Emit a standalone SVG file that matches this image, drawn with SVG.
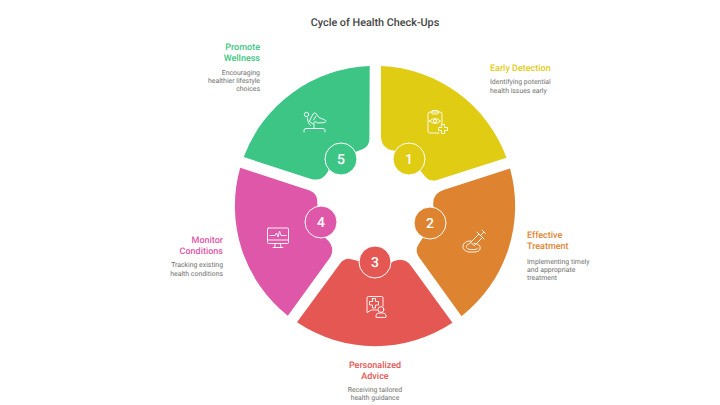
<svg xmlns="http://www.w3.org/2000/svg" width="720" height="405" viewBox="0 0 720 405">
<style>
text{font-family:Roboto,"Liberation Sans",sans-serif;text-rendering:geometricPrecision}
.t{font-size:10.8px;font-weight:500;fill:#444;text-anchor:middle}
.h{font-size:9px;font-weight:500}
.d{font-size:6.9px;fill:#707070}
.n{font-size:14px;font-weight:500;fill:#fff;text-anchor:middle}
.c{stroke:#fff;stroke-width:1}
.i{fill:none;stroke:#fff;stroke-width:.9;stroke-linecap:round;stroke-linejoin:round}
.y{fill:#dfcc13}.o{fill:#de8431}.r{fill:#e55753}.p{fill:#de57a9}.g{fill:#3dc585}
.e{text-anchor:end}.m{text-anchor:middle}
</style>
<defs>
<path id="s" d="M381 66A140 140 0 0 1 506.500 157.700L437 180Q430 182 425.500 177L405 152L393 150.500Q381 148 381 136Z"/>
</defs>
<rect width="720" height="405" fill="#fff"/>
<text class="t" x="375" y="26">Cycle of Health Check-Ups</text>
<g id="node-1">
<use href="#s" class="y"/>
<circle class="c y" cx="409" cy="159" r="16"/>
<text class="n" x="409" y="164">1</text>
<g class="i"><path d="M442 124v-10a2 2 0 0 0-2-2h-10a2 2 0 0 0-2 2v17a2 2 0 0 0 2 2h9"/><rect x="431.500" y="110.500" width="7" height="3.500" rx="1.500"/><path d="M429.500 121q5.500-5 11 0q-5.500 5-11 0z"/><circle cx="435" cy="121" r="1.600"/><path d="M441.500 124.500h3v3h3v3h-3v3h-3v-3h-3v-3h3z"/></g>
<text class="h y" x="490" y="71">Early Detection</text>
<text class="d" x="490" y="84">Identifying potential</text>
<text class="d" x="490" y="93">health issues early</text>
</g>
<g id="node-2">
<use href="#s" class="o" transform="rotate(72 375 206)"/>
<circle class="c o" cx="430" cy="223" r="16"/>
<text class="n" x="430" y="228">2</text>
<g class="i"><path d="M471 242l8-8 3.500 3.500-8 8zM477 232l7 7M480.500 235.500l3-3M482 230l3.500 3.500M471 242l-1.500 1.500"/><path d="M471 241c-4-.5-8 2-8 5.500s3.500 5.500 7 5.500 9 .5 10-3-2-5.500-6-5.500"/><path d="M469 244c-2 .5-3 2-2.500 3.500s3 2 5 2 5 .5 6-1"/></g>
<text class="h o" x="527" y="238">Effective</text>
<text class="h o" x="527" y="248.500">Treatment</text>
<text class="d" x="527" y="264">Implementing timely</text>
<text class="d" x="527" y="272">and appropriate</text>
<text class="d" x="527" y="280">treatment</text>
</g>
<g id="node-3">
<use href="#s" class="r" transform="rotate(144 375 206)"/>
<circle class="c r" cx="375" cy="262" r="16"/>
<text class="n" x="375" y="267">3</text>
<g class="i"><path d="M383 306v-8a1.500 1.500 0 0 0-1.500-1.500h-13a1.500 1.500 0 0 0-1.500 1.500v14.500l4.500-2.500h6"/><path d="M372.500 298.500h3v3h3v3.500h-3v3h-3v-3h-3v-3.500h3z"/><circle cx="381" cy="309.500" r="2.900"/><path d="M376 317v-1.500a3 3 0 0 1 3-2.500h4a3 3 0 0 1 3 2.500v1.500z"/></g>
<text class="h r m" x="375" y="368">Personalized</text>
<text class="h r m" x="375" y="379">Advice</text>
<text class="d m" x="375" y="392">Receiving tailored</text>
<text class="d m" x="375" y="400">health guidance</text>
</g>
<g id="node-4">
<use href="#s" class="p" transform="rotate(216 375 206)"/>
<circle class="c p" cx="321" cy="222" r="16"/>
<text class="n" x="321" y="227">4</text>
<g class="i"><rect x="267.500" y="228" width="21" height="15.500" rx="1"/><path d="M267.500 240h21M275 247.500h6l-.7-4h-4.600zM273 247.500h10"/><path d="M270 235.500h5l1.500-2.500 1.500 4 1.500-6 1.500 4.500h5"/></g>
<text class="h p e" x="223" y="243">Monitor</text>
<text class="h p e" x="223" y="254">Conditions</text>
<text class="d e" x="223" y="267">Tracking existing</text>
<text class="d e" x="223" y="276">health conditions</text>
</g>
<g id="node-5">
<use href="#s" class="g" transform="rotate(288 375 206)"/>
<circle class="c g" cx="341" cy="159" r="16"/>
<text class="n" x="341" y="164">5</text>
<g class="i"><circle cx="306.500" cy="114.500" r="2.200"/><path d="M309.500 121l3.500-7q1.500-2 3-.5l3 4 6 2.500q2 1.500 0 2.500l-7 .5-3-1.500-2 2z"/><path d="M316 116l-2.500 4M307.500 118c0 3 1 6 3 7.500"/><path d="M304 132v-1.500a2 2 0 0 1 2-2h17a2 2 0 0 1 2 2v1.500M314 128.500v-5"/></g>
<text class="h g e" x="260" y="50">Promote</text>
<text class="h g e" x="260" y="60.500">Wellness</text>
<text class="d e" x="260" y="75">Encouraging</text>
<text class="d e" x="260" y="83">healthier lifestyle</text>
<text class="d e" x="260" y="91">choices</text>
</g>
<g id="connectors"></g>
</svg>
